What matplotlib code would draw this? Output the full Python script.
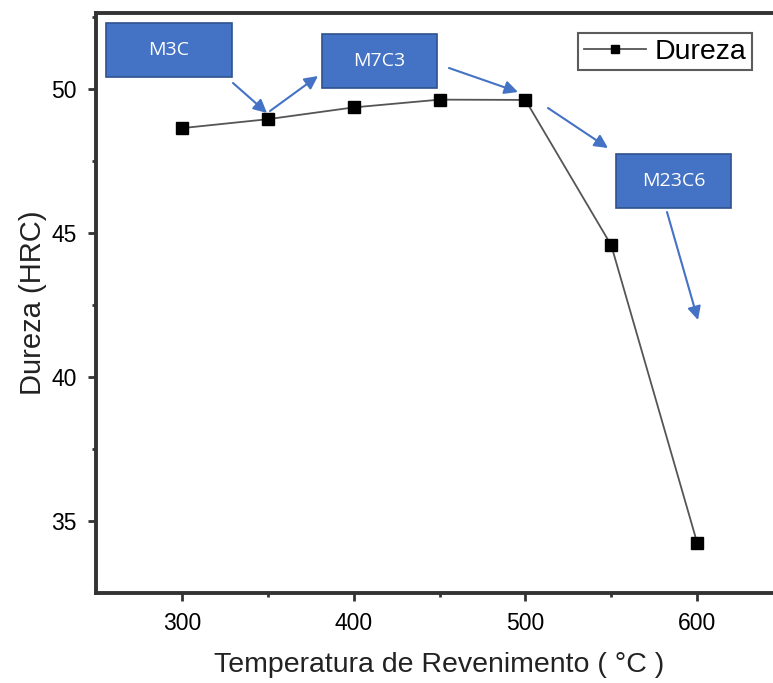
import numpy as np
import matplotlib.pyplot as plt
from matplotlib.patches import Rectangle, FancyArrowPatch

temperatura = [300, 350, 400, 450, 500, 550, 600]
dureza = [48.65, 48.96, 49.37, 49.64, 49.63, 44.58, 34.25]

carbide_labels = ["M3C", "M7C3", "M23C6"]

W, H = 773, 683
fig = plt.figure(figsize=(W / 100, H / 100), dpi=100)
plt.rcParams['font.family'] = ['Liberation Sans', 'DejaVu Sans']

ax = fig.add_axes([96 / W, 1 - 593 / H, (783 - 96) / W, (593 - 13) / H])
ax.plot(temperatura, dureza, color="#555555", lw=1.3, marker="s",
        markersize=8.5, markerfacecolor="black", markeredgecolor="black",
        label="Dureza")

ax.set_xlim(250, 650)
ax.set_ylim(32.5, 52.65)
ax.set_xticks([300, 400, 500, 600])
ax.set_xticks([350, 450, 550], minor=True)
ax.set_yticks([35, 40, 45, 50])
ax.set_yticks([37.5, 42.5, 47.5, 52.5], minor=True)

for s in ax.spines.values():
    s.set_linewidth(2.8)
    s.set_color("#333333")
ax.tick_params(which="major", length=6, width=2, color="#333333",
               labelsize=16.5, pad=8)
ax.tick_params(which="minor", length=3, width=2, color="#333333")

ax.set_xlabel("Temperatura de Revenimento ( °C )", fontsize=20.5, labelpad=12,
              color="#222222")
ax.set_ylabel("Dureza (HRC)", fontsize=21, labelpad=3, color="#222222")

leg = ax.legend(loc="upper left", bbox_to_anchor=(578 / W, 1 - 33 / H),
                bbox_transform=fig.transFigure, fontsize=20.5, frameon=True,
                fancybox=False, handlelength=2.2, handletextpad=0.3,
                markerscale=0.7, borderpad=0.2, borderaxespad=0)
leg.get_frame().set_edgecolor("#333333")
leg.get_frame().set_linewidth(1.5)


def fx(px):
    return px / W


def fy(py):
    return 1 - py / H


# caixas azuis
boxes = [(106, 23, 232, 77), (322, 34, 437, 88), (616, 154, 731, 208)]
for (x0, y0, x1, y1), lab in zip(boxes, carbide_labels):
    fig.add_artist(Rectangle((fx(x0), fy(y1)), fx(x1) - fx(x0), fy(y0) - fy(y1),
                             transform=fig.transFigure, facecolor="#4472C4",
                             edgecolor="#2F528F", lw=1.2))
    fig.text(fx((x0 + x1) / 2), fy((y0 + y1) / 2), lab, color="white",
             fontsize=14, ha="center", va="center", family="Open Sans")

# setas
arrows = [((233, 83), (267, 113)), ((270, 111), (318, 76)),
          ((449, 68), (518, 92)), ((548, 108), (608, 148)),
          ((667, 212), (698, 320))]
for a, b in arrows:
    fig.add_artist(FancyArrowPatch((fx(a[0]), fy(a[1])), (fx(b[0]), fy(b[1])),
                                   transform=fig.transFigure, arrowstyle="-|>",
                                   mutation_scale=20, color="#4472C4", lw=1.5,
                                   shrinkA=0, shrinkB=0))

fig.savefig("out.png", dpi=100)
